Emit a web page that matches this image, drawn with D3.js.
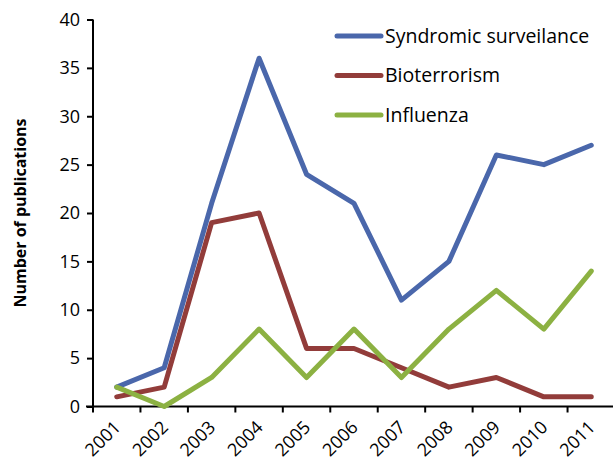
<!DOCTYPE html>
<html>
<head>
<meta charset="utf-8">
<script src="https://cdn.jsdelivr.net/npm/d3@7"></script>
<style>
  body { margin: 0; background: #fff; }
  text { font-family: "Open Sans", sans-serif; fill: #000; }
</style>
</head>
<body>
<svg id="chart" width="613" height="470"></svg>
<script>
var years = ["2001", "2002", "2003", "2004", "2005", "2006", "2007", "2008", "2009", "2010", "2011"];
var syndromic = [2, 4, 21, 36, 24, 21, 11, 15, 26, 25, 27];
var bioterrorism = [1, 2, 19, 20, 6, 6, 4, 2, 3, 1, 1];
var influenza = [2, 0, 3, 8, 3, 8, 3, 8, 12, 8, 14];
var seriesNames = ["Syndromic surveilance", "Bioterrorism", "Influenza"];
var seriesColors = ["#4a67ab", "#923c3a", "#8cb142"];
var yTicks = [0, 5, 10, 15, 20, 25, 30, 35, 40];

var series = [syndromic, bioterrorism, influenza].map(function(values, i) {
  return { name: seriesNames[i], color: seriesColors[i], values: values };
});

var svg = d3.select("#chart");
var plotLeft = 93, plotRight = 615, plotTop = 19.5, plotBottom = 406.5;

var x = d3.scaleBand()
  .domain(years)
  .range([plotLeft, plotRight]);

var y = d3.scaleLinear()
  .domain([0, 40])
  .range([plotBottom, plotTop]);

// y axis
var yAxis = svg.append("g")
  .attr("transform", "translate(" + plotLeft + ",0)")
  .call(d3.axisLeft(y).tickValues(yTicks).tickSize(6).tickPadding(7));
yAxis.select(".domain").attr("stroke", "#000").attr("stroke-width", 2).attr("d", "M0," + plotTop + "V" + plotBottom);
yAxis.selectAll(".tick line").attr("stroke", "#000").attr("stroke-width", 2);
yAxis.selectAll(".tick text").style("font-size", "18px").style("font-family", "'Open Sans', sans-serif");

// x axis, ticks between categories
var xAxis = svg.append("g")
  .attr("transform", "translate(0," + plotBottom + ")");
xAxis.append("line")
  .attr("x1", plotLeft - 7).attr("x2", plotRight)
  .attr("stroke", "#000").attr("stroke-width", 2);
xAxis.selectAll(".tick")
  .data(years)
  .enter().append("line")
    .attr("x1", function(d) { return x(d); })
    .attr("x2", function(d) { return x(d); })
    .attr("y1", 0).attr("y2", 6)
    .attr("stroke", "#000").attr("stroke-width", 2);
xAxis.selectAll(".label")
  .data(years)
  .enter().append("text")
    .attr("class", "label")
    .attr("text-anchor", "end")
    .attr("transform", function(d) {
      return "translate(" + (x(d) + x.bandwidth() / 2 + 5) + ",22) rotate(-45)";
    })
    .style("font-size", "18px")
    .text(function(d) { return d; });

// y title
svg.append("text")
  .attr("transform", "translate(26,213) rotate(-90)")
  .attr("text-anchor", "middle")
  .style("font-size", "16px")
  .style("font-weight", "bold")
  .text("Number of publications");

// lines
var line = d3.line()
  .x(function(d, i) { return x(years[i]) + x.bandwidth() / 2; })
  .y(function(d) { return y(d); });

svg.selectAll(".series")
  .data(series)
  .enter().append("path")
    .attr("class", "series")
    .attr("fill", "none")
    .attr("stroke", function(d) { return d.color; })
    .attr("stroke-width", 5)
    .attr("stroke-linejoin", "round")
    .attr("stroke-linecap", "round")
    .attr("d", function(d) { return line(d.values); });

// legend
var legend = svg.selectAll(".legend")
  .data(series)
  .enter().append("g")
    .attr("class", "legend")
    .attr("transform", function(d, i) { return "translate(337," + (36 + i * 39.5) + ")"; });
legend.append("line")
  .attr("x1", 0).attr("x2", 44)
  .attr("stroke", function(d) { return d.color; })
  .attr("stroke-width", 5)
  .attr("stroke-linecap", "round");
legend.append("text")
  .attr("x", 48)
  .attr("dy", "0.35em")
  .style("font-size", "19.5px")
  .text(function(d) { return d.name; });
</script>
</body>
</html>
